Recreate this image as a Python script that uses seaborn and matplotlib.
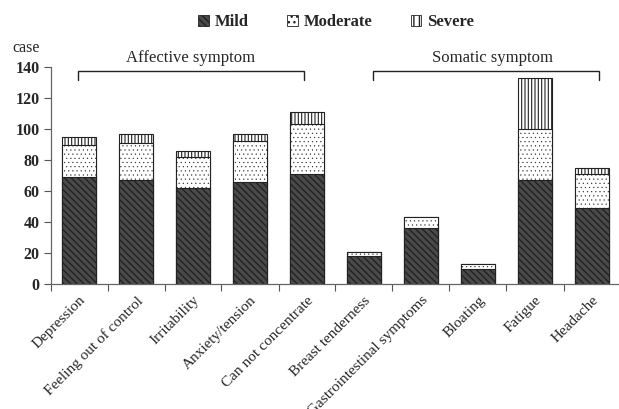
import matplotlib
matplotlib.use("Agg")
import matplotlib.pyplot as plt
import seaborn as sns
import pandas as pd
import numpy as np
from matplotlib.patches import Patch

categories = ["Depression", "Feeling out of control", "Irritability", "Anxiety/tension",
              "Can not concentrate", "Breast tenderness", "Gastrointestinal symptoms",
              "Bloating", "Fatigue", "Headache"]
mild = [69, 67, 62, 66, 71, 18, 36, 10, 67, 49]
moderate = [21, 24, 20, 26, 32, 2.5, 7, 3, 33, 22]
severe = [5, 6, 4, 5, 8, 0, 0, 0, 33, 4]
yticks = [0, 20, 40, 60, 80, 100, 120, 140]

sns.set_style("ticks")
plt.rcParams["font.family"] = ["Liberation Serif", "DejaVu Serif"]

df = pd.DataFrame({"cat": categories, "mild": mild, "moderate": moderate, "severe": severe})
df["lvl2"] = df["mild"] + df["moderate"]
df["lvl3"] = df["lvl2"] + df["severe"]

W, H = 619, 409
fig = plt.figure(figsize=(W / 100, H / 100), dpi=100)
ax = fig.add_axes([50.5 / W, 1 - 284 / H, 570 / W, 217 / H])

common = dict(x="cat", order=categories, width=0.6, saturation=1, ax=ax,
              edgecolor="#222222", linewidth=0.8)
MILD_H, MOD_H, SEV_H = "\\\\\\\\\\", "....", "|||||"
MILD_C = "#4a4a4a"
with plt.rc_context({"hatch.linewidth": 0.8}):
    sns.barplot(data=df, y="lvl3", color="white", hatch=SEV_H, **common)
with plt.rc_context({"hatch.linewidth": 0.3}):
    sns.barplot(data=df, y="lvl2", color="white", hatch=MOD_H, **common)
with plt.rc_context({"hatch.linewidth": 1.0}):
    sns.barplot(data=df, y="mild", color=MILD_C, hatch=MILD_H, **common)

ax.set_xlim(-0.5, 9.5)
ax.set_ylim(0, 140)
ax.set_yticks(yticks)
ax.set_yticklabels([str(v) for v in yticks], fontsize=11.5, fontweight="bold")
ax.set_xlabel("")
ax.set_ylabel("")
ax.set_xticks(range(len(categories)))
ax.set_xticklabels(categories, rotation=45, ha="right", rotation_mode="anchor", fontsize=11)
ax.tick_params(axis="x", which="major", length=0, pad=7)
ax.set_xticks(np.arange(-0.5, 10, 1), minor=True)
ax.tick_params(axis="x", which="minor", length=5, width=0.8, color="#555555", direction="out")
ax.tick_params(axis="y", length=5, width=0.8, color="#555555", direction="out", pad=3)
for s in ["top", "right"]:
    ax.spines[s].set_visible(False)
for s in ["left", "bottom"]:
    ax.spines[s].set_color("#666666")
    ax.spines[s].set_linewidth(0.9)

# group brackets
def bracket(x0, x1, label, lx):
    ax.plot([x0, x0, x1, x1], [131.6, 137.1, 137.1, 131.6], color="#222222", lw=1.0,
            clip_on=False, solid_joinstyle="miter")
    ax.text(lx, 140.5, label, ha="center", va="bottom", fontsize=12, clip_on=False)

bracket(-0.02, 3.95, "Affective symptom", 1.95)
bracket(5.16, 9.12, "Somatic symptom", 7.25)

fig.text(12 / W, 1 - 52 / H, "case", fontsize=11.5, ha="left", va="baseline")

with plt.rc_context({"hatch.linewidth": 0.6}):
    handles = [
        Patch(facecolor=MILD_C, edgecolor="#222222", hatch=MILD_H, lw=0.6, label="Mild"),
        Patch(facecolor="white", edgecolor="#222222", hatch="...", lw=0.6, label="Moderate"),
        Patch(facecolor="white", edgecolor="#222222", hatch="|||", lw=0.6, label="Severe"),
    ]
fig.legend(handles=handles, loc="center", bbox_to_anchor=(336 / W, 1 - 22 / H), ncol=3,
           frameon=False, handlelength=0.65, handleheight=0.65, handletextpad=0.35,
           columnspacing=2.3, prop={"weight": "bold", "size": 12})

fig.savefig("out.png", dpi=100)
